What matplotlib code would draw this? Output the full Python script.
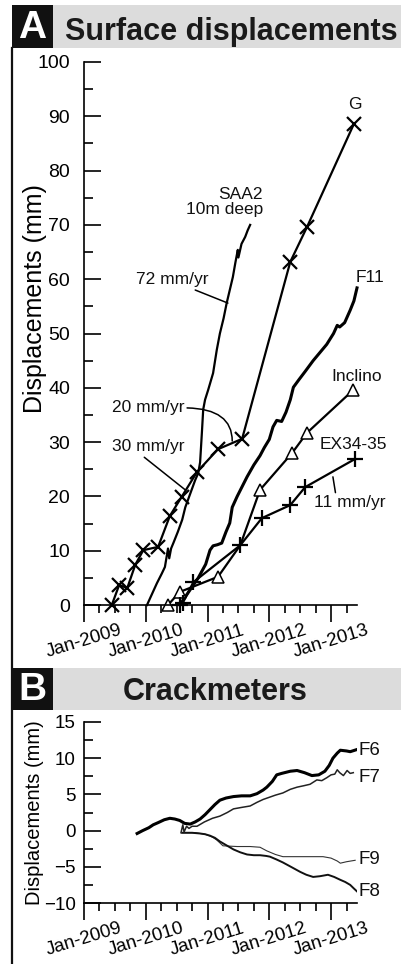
import numpy as np
import matplotlib
matplotlib.use("Agg")
import matplotlib.pyplot as plt
from matplotlib.patches import Rectangle
from matplotlib.lines import Line2D

plt.rcParams['font.family'] = ['Liberation Sans', 'DejaVu Sans']

# ---- panel A data (decimal years, mm) ----
g_t = [2009.45, 2009.57, 2009.70, 2009.83, 2009.96, 2010.20, 2010.39, 2010.58,
       2010.83, 2011.17, 2011.56, 2012.34, 2012.61, 2013.37]
g_v = [0, 3.7, 3.1, 7.4, 10.1, 10.7, 16.4, 19.9, 24.5, 28.7, 30.6, 63.2, 69.6, 88.6]

saa_t = [2010.02, 2010.10, 2010.18, 2010.26, 2010.31, 2010.36, 2010.38, 2010.41,
         2010.45, 2010.52, 2010.59, 2010.64, 2010.72, 2010.80, 2010.85, 2010.88,
         2010.91, 2010.93, 2010.96, 2011.01, 2011.09, 2011.15, 2011.20, 2011.26,
         2011.31, 2011.36, 2011.41, 2011.45, 2011.49, 2011.50, 2011.55, 2011.61,
         2011.65, 2011.69]
saa_v = [0, 2.0, 4.0, 5.8, 7.0, 10.4, 8.6, 10.4, 11.5, 13.5, 15.7, 18.0, 20.5,
         23.0, 24.3, 26.3, 32.0, 36.0, 37.8, 39.6, 42.7, 47.0, 50.0, 52.8, 55.6,
         58.0, 60.4, 63.0, 65.4, 64.0, 66.5, 67.8, 69.0, 70.0]

f11_t = [2010.55, 2010.70, 2010.85, 2010.97, 2011.04, 2011.09, 2011.16, 2011.23,
         2011.30, 2011.36, 2011.40, 2011.48, 2011.56, 2011.64, 2011.75, 2011.85,
         2011.92, 2012.00, 2012.06, 2012.12, 2012.20, 2012.27, 2012.34, 2012.39,
         2012.48, 2012.58, 2012.71, 2012.82, 2012.93, 2013.04, 2013.10, 2013.14,
         2013.22, 2013.31, 2013.37, 2013.42]
f11_v = [0, 2.5, 5.0, 7.5, 10.1, 10.9, 11.1, 11.4, 13.5, 15.1, 18.0, 20.0, 21.8,
         23.6, 25.8, 27.5, 29.0, 30.5, 32.8, 34.0, 33.8, 35.5, 37.8, 40.1, 41.5,
         43.0, 45.0, 46.5, 48.0, 50.0, 51.5, 51.2, 52.0, 54.3, 56.0, 58.4]

inc_t = [2010.36, 2010.55, 2011.17, 2011.53, 2011.85, 2012.37, 2012.61, 2013.36]
inc_v = [0, 2.4, 5.2, 11.0, 21.2, 28.0, 31.7, 39.6]
inc_marks = [0, 1, 2, 4, 5, 6, 7]

ex_t = [2010.55, 2010.60, 2010.77, 2011.53, 2011.88, 2012.34, 2012.58, 2013.39]
ex_v = [0, 0.4, 4.2, 11.0, 16.0, 18.4, 21.7, 26.9]

# ---- panel B data (decimal years, mm) ----
f6_t = [2009.86, 2009.95, 2010.05, 2010.12, 2010.20, 2010.30, 2010.39, 2010.47,
        2010.55, 2010.63, 2010.72, 2010.80, 2010.88, 2010.96, 2011.04, 2011.12,
        2011.20, 2011.30, 2011.42, 2011.55, 2011.69, 2011.80, 2011.90, 2011.96,
        2012.05, 2012.12, 2012.20, 2012.34, 2012.45, 2012.57, 2012.69, 2012.80,
        2012.90, 2012.97, 2013.03, 2013.10, 2013.15, 2013.25, 2013.31, 2013.42]
f6_v = [-0.4, 0.0, 0.4, 0.8, 1.1, 1.5, 1.7, 1.6, 1.4, 1.0, 0.9, 1.2, 1.6, 2.2,
        2.9, 3.6, 4.2, 4.5, 4.7, 4.8, 4.8, 5.1, 5.6, 6.0, 6.8, 7.7, 7.9, 8.2,
        8.3, 8.0, 7.6, 7.7, 8.2, 9.0, 10.0, 10.7, 11.1, 11.0, 10.9, 11.2]

f7_t = [2010.57, 2010.60, 2010.62, 2010.66, 2010.70, 2010.75, 2010.83, 2010.95,
        2011.08, 2011.20, 2011.32, 2011.42, 2011.55, 2011.69, 2011.80, 2011.90,
        2012.00, 2012.10, 2012.22, 2012.34, 2012.45, 2012.56, 2012.66, 2012.77,
        2012.85, 2012.93, 2013.00, 2013.06, 2013.10, 2013.14, 2013.20, 2013.26,
        2013.31, 2013.36]
f7_v = [-0.3, 0.8, -0.2, 0.6, 0.3, 0.6, 0.6, 1.2, 1.7, 2.0, 2.5, 3.0, 3.2, 3.4,
        3.9, 4.3, 4.6, 4.9, 5.2, 5.7, 6.0, 6.2, 6.4, 7.0, 6.9, 7.3, 7.7, 7.8,
        8.4, 8.0, 7.6, 8.3, 7.9, 8.0]

f8_t = [2010.59, 2010.75, 2010.88, 2010.96, 2011.04, 2011.12, 2011.20, 2011.30,
        2011.42, 2011.53, 2011.64, 2011.75, 2011.85, 2011.95, 2012.01, 2012.12,
        2012.22, 2012.35, 2012.50, 2012.60, 2012.71, 2012.82, 2012.95, 2013.05,
        2013.15, 2013.23, 2013.31, 2013.37, 2013.42]
f8_v = [-0.3, -0.3, -0.4, -0.5, -0.7, -1.0, -1.5, -2.0, -2.6, -3.0, -3.3, -3.4,
        -3.4, -3.5, -3.6, -4.0, -4.4, -5.0, -5.7, -6.1, -6.4, -6.3, -6.1, -6.4,
        -6.8, -7.1, -7.5, -8.0, -8.4]

f9_t = [2010.59, 2010.80, 2010.96, 2011.08, 2011.15, 2011.25, 2011.48, 2011.69,
        2011.85, 2011.96, 2012.10, 2012.22, 2012.50, 2012.87, 2013.00, 2013.10,
        2013.15, 2013.25, 2013.39]
f9_v = [-0.3, -0.3, -0.5, -0.9, -1.3, -2.1, -2.2, -2.2, -2.3, -2.8, -3.3, -3.6,
        -3.6, -3.6, -3.8, -4.2, -4.5, -4.3, -4.1]

years = [2009, 2010, 2011, 2012, 2013]
year_labels = ['Jan-2009', 'Jan-2010', 'Jan-2011', 'Jan-2012', 'Jan-2013']
xmin, xmax = 2009.0, 2013.42

W, H = 402, 964
fig = plt.figure(figsize=(W / 100, H / 100), dpi=100)


def fx(px):
    return px / W


def fy(py):
    return 1 - py / H


def header(top, bottom, letter, title, tx, ha, base):
    fig.add_artist(Rectangle((fx(53), fy(bottom)), fx(W - 53), fy(top) - fy(bottom),
                             transform=fig.transFigure, facecolor='#dcdcdc', edgecolor='none'))
    fig.add_artist(Rectangle((fx(12), fy(bottom)), fx(41), fy(top) - fy(bottom),
                             transform=fig.transFigure, facecolor='#111111', edgecolor='none'))
    fig.text(fx(32.5), fy((top + bottom) / 2 + 1), letter, color='white', fontsize=28,
             fontweight='bold', ha='center', va='center')
    fig.text(fx(tx), fy(base), title, color='#1a1a1a', fontsize=22, fontweight='bold',
             ha=ha, va='baseline')


header(5, 48, 'A', 'Surface displacements', 65, 'left', 40)
header(668, 710, 'B', 'Crackmeters', 215, 'center', 700)
fig.add_artist(Line2D([fx(12.5), fx(12.5)], [0, fy(48)], transform=fig.transFigure,
                      color='#111111', lw=1.6))


def style_axes(ax, ylo, yhi, ymaj, ymin, ysize, ypad):
    ax.set_xlim(xmin, xmax)
    ax.set_ylim(ylo, yhi)
    for s in ['top', 'right']:
        ax.spines[s].set_visible(False)
    for s in ['left', 'bottom']:
        ax.spines[s].set_linewidth(1.2)
    ax.set_xticks(years)
    ax.set_xticks(np.arange(2009.25, 2013.3, 0.25), minor=True)
    ax.set_xticklabels(year_labels, rotation=17, ha='center', fontsize=13.5)
    ax.set_yticks(np.arange(ylo, yhi + 0.1, ymaj))
    ax.set_yticks(np.arange(ylo, yhi + 0.1, ymin), minor=True)
    ax.tick_params(axis='x', which='major', direction='out', length=12, width=1.2, pad=0)
    ax.tick_params(axis='x', which='minor', direction='out', length=6, width=1.2)
    ax.tick_params(axis='y', which='major', direction='in', length=12, width=1.2,
                   pad=ypad, labelsize=ysize)
    ax.tick_params(axis='y', which='minor', direction='in', length=6.5, width=1.2)
    ax.patch.set_alpha(0)


# ---- panel A ----
axA = fig.add_axes([fx(84), fy(605), fx(357 - 84), fy(62) - fy(605)])
style_axes(axA, 0, 100, 10, 5, 14, 10)
axA.set_ylabel('Displacements (mm)', fontsize=18)
axA.yaxis.label.set_va('center')
axA.yaxis.set_label_coords((35 - 84) / 273, (605 - 299) / 543)

axA.plot(saa_t, saa_v, color='k', lw=1.6, clip_on=False)
axA.plot(f11_t, f11_v, color='k', lw=2.2, clip_on=False)
axA.plot(g_t, g_v, color='k', lw=1.6, marker='x', ms=10, mew=1.6, clip_on=False)
axA.plot(inc_t, inc_v, color='k', lw=1.6, marker='^', ms=9, mew=1.1, mfc='white',
         markevery=inc_marks, clip_on=False)
axA.plot(ex_t, ex_v, color='k', lw=1.6, marker='+', ms=11, mew=1.6, clip_on=False)

lab = dict(fontsize=12.5, color='#111111')
axA.text(2013.39, 92.1, 'G', ha='center', va='center', **lab)
axA.text(2011.90, 74.2, 'SAA2\n10m deep', ha='right', va='center', multialignment='right',
         linespacing=1.05, **lab)
axA.text(2013.63, 60.4, 'F11', ha='center', va='center', **lab)
axA.text(2013.42, 42.0, 'Inclino', ha='center', va='center', **lab)
axA.text(2013.36, 29.5, 'EX34-35', ha='center', va='center', **lab)

arrow = dict(arrowstyle='-', color='k', lw=1.1, shrinkA=0, shrinkB=0)
axA.annotate('72 mm/yr', xy=(2011.33, 55.6), xytext=(2010.43, 59.9), ha='center',
             va='center', arrowprops=dict(relpos=(0.72, 0.0), **arrow), **lab)
axA.annotate('20 mm/yr', xy=(2011.40, 30.2), xytext=(2009.45, 36.3), ha='left',
             va='center', arrowprops=dict(relpos=(1.0, 0.5),
                                          connectionstyle='angle3,angleA=0,angleB=90', **arrow),
             **lab)
axA.annotate('30 mm/yr', xy=(2010.64, 21.2), xytext=(2009.45, 29.1), ha='left',
             va='center', arrowprops=dict(relpos=(0.4, 0.0), **arrow), **lab)
axA.annotate('11 mm/yr', xy=(2013.03, 23.6), xytext=(2013.31, 18.8), ha='center',
             va='center', arrowprops=dict(relpos=(0.3, 1.0), **arrow), **lab)

# ---- panel B ----
axB = fig.add_axes([fx(84), fy(903), fx(357 - 84), fy(722) - fy(903)])
style_axes(axB, -10, 15, 5, 2.5, 13.5, 6)
axB.set_ylabel('Displacements (mm)', fontsize=14.5)
axB.yaxis.label.set_va('center')
axB.yaxis.set_label_coords((35 - 84) / 273, 0.5)

axB.plot(f9_t, f9_v, color='#333333', lw=0.8)
axB.plot(f8_t, f8_v, color='#111111', lw=1.4)
axB.plot(f7_t, f7_v, color='#222222', lw=1.1)
axB.plot(f6_t, f6_v, color='k', lw=2.2)

for name, yv in [('F6', 11.0), ('F7', 7.4), ('F9', -4.0), ('F8', -8.4)]:
    axB.text(xmax + 0.03, yv, name, ha='left', va='center', fontsize=13.5, color='#111111')

fig.savefig('out.png', dpi=100)
